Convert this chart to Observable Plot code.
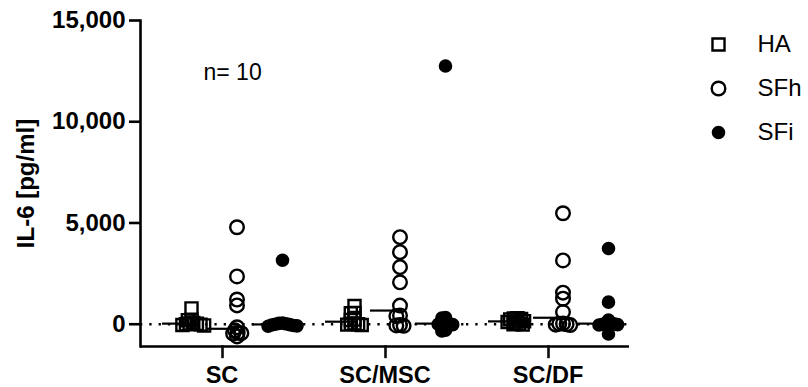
<!DOCTYPE html>
<html>
<head>
<meta charset="utf-8">
<script src="https://cdn.jsdelivr.net/npm/d3@7"></script>
<script src="https://cdn.jsdelivr.net/npm/@observablehq/plot@0.6"></script>
<style>
  body { margin: 0; background: #fff; }
  #chart { position: relative; width: 808px; height: 387px; }
  #legend { position: absolute; left: 690px; top: 0; }
</style>
</head>
<body>
<div id="chart"></div>
<script>
// Culture conditions (x groups) and treatment series within each group
const groups = ["SC", "SC/MSC", "SC/DF"];
const series = ["HA", "SFh", "SFi"];
const yTicks = [0, 5000, 10000, 15000];
const yDomain = [-1100, 15000];

// IL-6 concentrations, pg/ml, one value per donor (n = 10)
const SC_HA   = [780, 220, 200, 60, 40, 20, 0, -20, -40, -60];
const SC_SFh  = [4790, 2360, 1220, 930, -150, -300, -420, -440, -460, -600];
const SC_SFi  = [3160, 60, 40, 20, 0, -20, -40, -60, -80, -100];
const MSC_HA  = [900, 560, 540, 230, 210, 40, 20, 0, -20, -40];
const MSC_SFh = [4300, 3560, 2820, 2070, 920, 430, 400, -40, -60, -80];
const MSC_SFi = [12750, 330, 300, 60, 40, 20, 0, -20, -300, -330];
const DF_HA   = [300, 280, 260, 240, 150, 130, 110, 20, 0, -20];
const DF_SFh  = [5480, 3150, 1560, 1260, 600, 40, 20, 0, -20, -40];
const DF_SFi  = [3740, 1090, 200, 60, 40, 20, 0, -20, -40, -480];

// Long table built from the arrays above
const columns = [
  ["SC", "HA", SC_HA], ["SC", "SFh", SC_SFh], ["SC", "SFi", SC_SFi],
  ["SC/MSC", "HA", MSC_HA], ["SC/MSC", "SFh", MSC_SFh], ["SC/MSC", "SFi", MSC_SFi],
  ["SC/DF", "HA", DF_HA], ["SC/DF", "SFh", DF_SFh], ["SC/DF", "SFi", DF_SFi]
];
const rows = columns.flatMap(([group, s, vals]) => vals.map(value => ({group, series: s, value})));

// Markers are drawn larger than the radius used for the overlap layout,
// so that tied values pile up tightly as in a scatter dot plot.
const layoutR = 2;
const markerScale = 3.4;
const enlarged = type => ({draw(context, size) { type.draw(context, size * markerScale * markerScale); }});
const seriesStyle = {
  HA:  {symbol: enlarged(d3.symbolSquare), fill: "none",  stroke: "black", strokeWidth: 2.4},
  SFh: {symbol: enlarged(d3.symbolCircle), fill: "none",  stroke: "black", strokeWidth: 2.4},
  SFi: {symbol: enlarged(d3.symbolCircle), fill: "black", stroke: "none",  strokeWidth: 0}
};
const seriesStep = 45.5;   // horizontal spacing of the series columns inside a group
const groupTickLen = 600;  // length of the category ticks below the axis, in pg/ml (about 12 px)

const font = "'Liberation Sans', Arial, Helvetica, sans-serif";

const chart = Plot.plot({
  width: 808,
  height: 387,
  marginTop: 20,
  marginBottom: 41,
  marginLeft: 139,
  marginRight: 178,
  style: {fontFamily: font, color: "black", background: "white", overflow: "visible"},
  fx: {domain: groups, padding: 0},
  x: {domain: series, paddingInner: 0.34, paddingOuter: 0.47, axis: null},
  y: {domain: yDomain},
  marks: [
    // dotted zero reference line
    Plot.ruleY([0], {stroke: "black", strokeWidth: 2.3, strokeDasharray: "2.3 7"}),
    // bottom axis line
    Plot.ruleY([yDomain[0]], {stroke: "black", strokeWidth: 2.6}),
    // left axis line
    Plot.frame({anchor: "left", facetAnchor: "left", stroke: "black", strokeWidth: 2.6}),
    // tick under the centre of each group
    Plot.ruleX([series[1]], {
      x: d => d, y1: () => yDomain[0] - groupTickLen, y2: () => yDomain[0] + 40,
      stroke: "#0b0b0b", strokeWidth: 2.6
    }),
    Plot.axisY({
      ticks: yTicks, tickFormat: d3.format(","), tickSize: 11, tickPadding: 4,
      strokeWidth: 2.6, fontSize: 24, fontWeight: "bold",
      label: "IL-6 [pg/ml]", labelAnchor: "center", labelOffset: 124, labelArrow: "none"
    }),
    Plot.axisFx({
      anchor: "bottom", tickSize: 0, tickPadding: 20,
      fontSize: 23.5, fontWeight: "bold", label: null
    }),
    // median of each column
    Plot.tickY(rows, Plot.groupX({y: "median"}, {
      x: "series", y: "value", fx: "group", stroke: "black", strokeWidth: 2.2
    })),
    // individual donors, piled sideways where they overlap
    ...series.map((s, k) => Plot.dot(rows, Plot.dodgeX({anchor: "middle", padding: -0.3}, {
      filter: d => d.series === s,
      fx: "group",
      y: "value",
      r: layoutR,
      dx: (k - 1) * seriesStep,
      ...seriesStyle[s]
    }))),
    Plot.text([{group: groups[0], label: `n= ${SC_HA.length}`}], {
      fx: "group", text: "label", frameAnchor: "top-left", textAnchor: "start",
      dx: 63, dy: 43, fontSize: 23, fontWeight: "normal"
    })
  ]
});

const legend = Plot.plot({
  width: 118,
  height: 170,
  margin: 0,
  style: {fontFamily: font, color: "black", background: "transparent"},
  x: {axis: null},
  y: {type: "point", domain: series, range: [43, 132], padding: 0, axis: null},
  marks: [
    ...series.map(s => Plot.dot([s], {
      y: d => d, frameAnchor: "left", dx: 28, r: layoutR, ...seriesStyle[s]
    })),
    Plot.text(series, {
      y: d => d, text: d => d, frameAnchor: "left", dx: 67,
      textAnchor: "start", fontSize: 24
    })
  ]
});
legend.id = "legend";

const root = document.getElementById("chart");
root.append(chart);
root.append(legend);
</script>
</body>
</html>
